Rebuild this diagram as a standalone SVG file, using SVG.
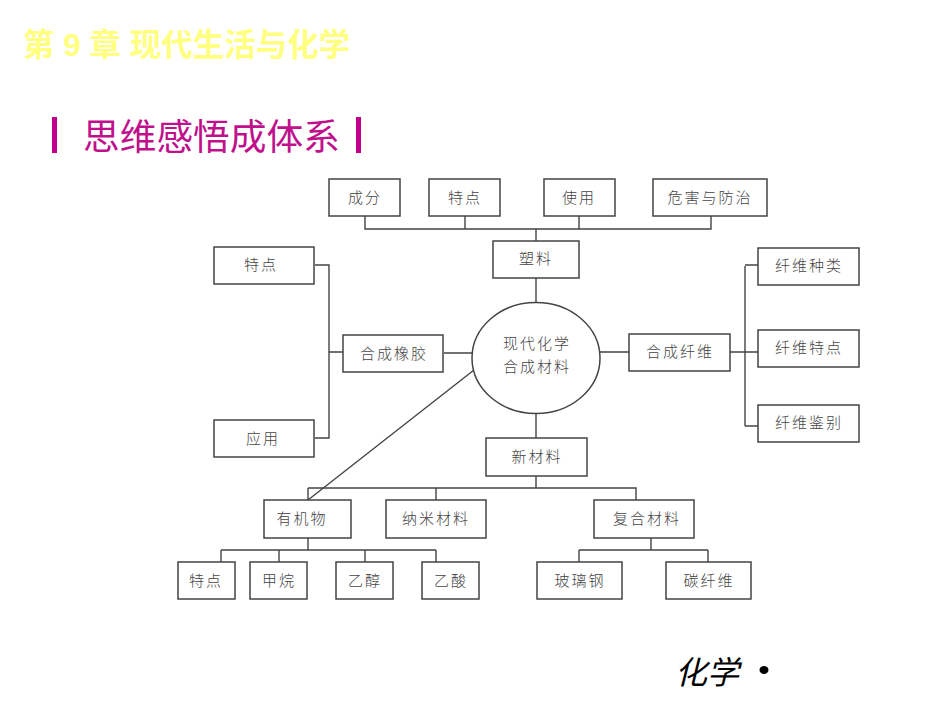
<svg xmlns="http://www.w3.org/2000/svg" width="950" height="713" viewBox="0 0 950 713">
<style>
text{font-family:"Noto Sans CJK SC","Liberation Sans",sans-serif}
.n rect{fill:#fff;stroke:#444;stroke-width:1.5}
.n text{font-family:"Noto Sans CJK SC",sans-serif;font-size:15px;font-weight:300;fill:#444;text-anchor:middle;letter-spacing:2px}
#connectors path{fill:none;stroke:#444;stroke-width:1.4}
</style>
<rect width="950" height="713" fill="#fff"/>
<text x="23" y="56" font-size="31.500" font-weight="700" fill="#ffff80" style="font-family:'Liberation Sans','Noto Sans CJK SC',sans-serif">第 9 章 现代生活与化学</text>
<g fill="#c0008c"><rect x="52" y="117" width="5" height="36"/><rect x="356" y="117" width="5" height="36"/></g>
<text x="83" y="150" font-size="36.700" fill="#c0108c">思维感悟成体系</text>
<g id="connectors">
<path d="M365 216V229H711V216M465 216V229M579 216V229M536 229V241M536 278V303"/>
<path d="M315 265H329V438H315M329 352H343M444 353H472M600 352H629M730 352H745M745 266V426M745 265H758M745 352H758M745 426H758"/>
<path d="M536 414V438M536 476V488H308M536 488H636V500M308 488V500M436 488V500"/>
<path d="M474 370L308 500M308 538V550M221 550H436M221 550V562M279 550V562M365 550V562M436 550V562M651 538V550M579 550H708M579 550V562M708 550V562"/>
</g>
<g id="n1" class="n"><rect x="329" y="179" width="71" height="37"/><text x="365" y="203">成分</text></g>
<g id="n2" class="n"><rect x="429" y="179" width="71" height="37"/><text x="465" y="203">特点</text></g>
<g id="n3" class="n"><rect x="544" y="179" width="71" height="37"/><text x="579" y="203">使用</text></g>
<g id="n4" class="n"><rect x="653" y="179" width="114" height="37"/><text x="710" y="203">危害与防治</text></g>
<g id="n5" class="n"><rect x="493" y="241" width="86" height="37"/><text x="536" y="264">塑料</text></g>
<g id="n6" class="n"><rect x="214" y="247" width="100" height="37"/><text x="261" y="270">特点</text></g>
<g id="n7" class="n"><rect x="214" y="420" width="100" height="37"/><text x="263" y="444">应用</text></g>
<g id="n8" class="n"><rect x="343" y="335" width="100" height="37"/><text x="394" y="359">合成橡胶</text></g>
<g id="center" class="n"><ellipse cx="536" cy="358" rx="64" ry="55.500" fill="#fff" stroke="#444" stroke-width="1.500"/><text x="537" y="349">现代化学</text><text x="537" y="372">合成材料</text></g>
<g id="n9" class="n"><rect x="629" y="334" width="101" height="37"/><text x="680" y="357">合成纤维</text></g>
<g id="n10" class="n"><rect x="758" y="248" width="101" height="37"/><text x="809" y="271">纤维种类</text></g>
<g id="n11" class="n"><rect x="758" y="330" width="101" height="37"/><text x="809" y="353">纤维特点</text></g>
<g id="n12" class="n"><rect x="758" y="405" width="101" height="37"/><text x="809" y="428">纤维鉴别</text></g>
<g id="n13" class="n"><rect x="486" y="438" width="101" height="38"/><text x="537" y="462">新材料</text></g>
<g id="n14" class="n"><rect x="264" y="500" width="87" height="38"/><text x="302" y="524">有机物</text></g>
<g id="n15" class="n"><rect x="386" y="500" width="100" height="38"/><text x="436" y="524">纳米材料</text></g>
<g id="n16" class="n"><rect x="594" y="500" width="100" height="38"/><text x="647" y="524">复合材料</text></g>
<g id="n17" class="n"><rect x="178" y="562" width="57" height="37"/><text x="206" y="586">特点</text></g>
<g id="n18" class="n"><rect x="250" y="562" width="57" height="37"/><text x="279" y="586">甲烷</text></g>
<g id="n19" class="n"><rect x="336" y="562" width="57" height="37"/><text x="365" y="586">乙醇</text></g>
<g id="n20" class="n"><rect x="422" y="562" width="57" height="37"/><text x="451" y="586">乙酸</text></g>
<g id="n21" class="n"><rect x="537" y="562" width="85" height="37"/><text x="580" y="586">玻璃钢</text></g>
<g id="n22" class="n"><rect x="666" y="562" width="85" height="37"/><text x="709" y="586">碳纤维</text></g>
<text x="675" y="684" font-size="32" font-style="italic" fill="#000">化学</text>
<ellipse cx="764" cy="670" rx="4.500" ry="4" fill="#000"/>
</svg>
